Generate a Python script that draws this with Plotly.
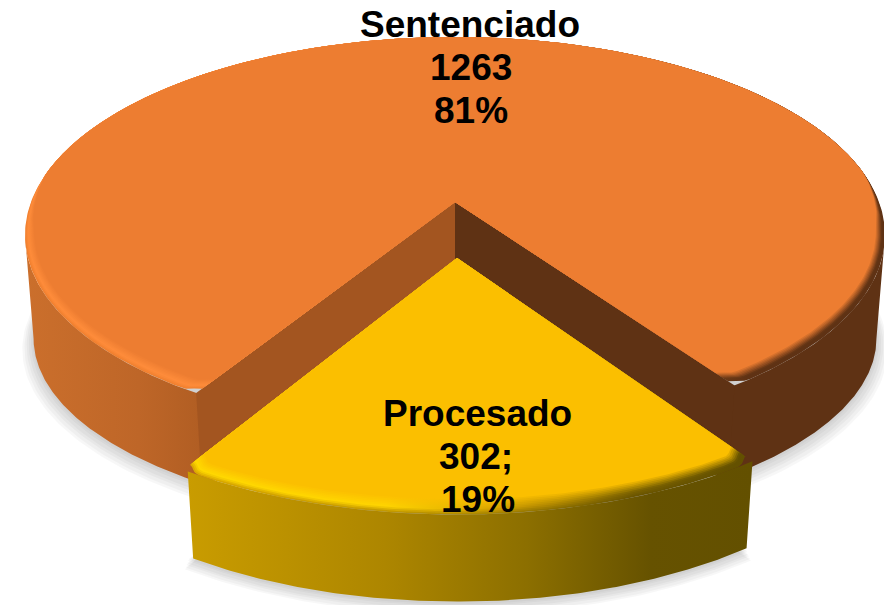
import numpy as np
import plotly.graph_objects as go

# ---- data
categories = ["Sentenciado", "Procesado"]
values = [1263, 302]
value_labels = ["1263", "302;"]
percent_labels = ["81%", "19%"]

# ---- view of the pie (a circle in a tilted plane, seen in perspective)
W, H = 884, 605
X0, Y0 = 455.0, 202.0      # pie centre on the top plane
F, G = 424.0, 192.5        # horizontal / depth scale
K = 1 / 6                  # perspective strength
DEPTH = 87.0               # thickness on screen
BOTTOM_SCALE = 0.98        # the lower plane is a little narrower
EXPLODE = 0.278            # how far the small slice is pulled out
EXPLODE_DX = 2.0
FRONT_ROT = 1.55           # degrees, rotation of the small slice from straight front
VIEW_SQUEEZE = 0.954       # foreshortening of angles across the front of the pie
FLARE = 20.0               # the wide body's lower edge sits lower toward its sides
TANGENT = 80.4             # angle of the silhouette's widest point

span = 360 * values[1] / sum(values) * VIEW_SQUEEZE
LEFT_CUT = -(span / 2 - FRONT_ROT)
RIGHT_CUT = span / 2 + FRONT_ROT


def project(theta_deg, r=1.0, z=0.0, explode=0.0, dx=0.0):
    t = np.radians(theta_deg)
    u = r * np.sin(t)
    v = r * np.cos(t) + explode
    d = 1 - K * v
    s = 1 - (1 - BOTTOM_SCALE) * z
    return X0 + dx + F * s * u / d, Y0 + G * v / d + DEPTH * z


def bevel_r(theta, w, t, corners=()):
    v = np.cos(np.radians(theta))
    taper = np.clip((v + 0.15) / 0.3, 0, 1)
    r = 1 - w * t * taper * (0.4 + 0.6 * v ** 2)
    for c in corners:  # the corners of each slice are slightly rounded
        r = r - 0.02 * np.exp(-(((theta - c) / 1.1) ** 2))
    return r


def sector(a0, a1, w=0.0, t=0.0, explode=0.0, dx=0.0, n=360):
    th = np.linspace(a0, a1, n)
    x, y = project(th, bevel_r(th, w, t, (a0, a1)), 0, explode, dx)
    ax, ay = project(0.0, 0.0, 0, explode, dx)
    return np.r_[ax, x, ax], np.r_[ay, y, ay]


def band(a0, a1, explode=0.0, dx=0.0, flare=0.0, n=160):
    th = np.linspace(a0, a1, n)
    x1, y1 = project(th, 1, 0, explode, dx)
    x2, y2 = project(th[::-1], 1, 1, explode, dx)
    y2 = y2 + flare * (1 - np.clip(np.cos(np.radians(th[::-1])), 0, 1))
    return np.r_[x1, x2, x1[0]], np.r_[y1, y2, y1[0]]


def mix(c1, c2, t):
    a = [int(c1[i:i + 2], 16) for i in (1, 3, 5)]
    b = [int(c2[i:i + 2], 16) for i in (1, 3, 5)]
    return "#%02X%02X%02X" % tuple(round(p + (q - p) * t) for p, q in zip(a, b))


fig = go.Figure()


def poly(x, y, color=None, stops=None):
    kw = dict(x=x, y=y, mode="lines", fill="toself", line=dict(width=0),
              hoverinfo="skip", showlegend=False)
    if stops:
        kw["fillgradient"] = dict(type="horizontal", colorscale=stops)
        kw["fillcolor"] = stops[0][1]
    else:
        kw["fillcolor"] = color
    fig.add_trace(go.Scatter(**kw))


def bevel_stops(t, outer, crest, face, peak=0.3):
    """Colour stops of a bevel layer: outer edge -> bright crest -> flat face."""
    out = []
    for (p, c_out), (_, c_crest) in zip(outer, crest):
        if t < peak:
            out.append([p, mix(c_out, c_crest, t / peak)])
        else:
            out.append([p, mix(c_crest, face, (t - peak) / (1 - peak))])
    return out


# ---- soft shadow on the ground
ORANGE_A0, ORANGE_A1 = RIGHT_CUT, 360 + LEFT_CUT
th_all = np.linspace(0, 360, 300)
th_y = np.linspace(LEFT_CUT, RIGHT_CUT, 100)
for e, off in [(0.026, 9), (0.021, 8), (0.016, 6), (0.011, 5), (0.006, 3), (0.002, 2)]:
    x, y = project(th_all, 1 + e, 1)
    y = y + FLARE * (1 - np.clip(np.cos(np.radians(th_all)), 0, 1))
    poly(x, y + off, "rgba(0,0,0,0.03)")
    x, y = project(th_y, 1 + e * 0.5, 1, EXPLODE, EXPLODE_DX)
    ax, ay = project(0.0, 0.0, 1, EXPLODE, EXPLODE_DX)
    poly(np.r_[ax, x, ax], np.r_[ay, y + off, ay], "rgba(0,0,0,0.03)")

# ---- orange body: outer wall, then the two cut walls
x, y = band(-TANGENT, LEFT_CUT + 2, flare=FLARE)
poly(x, y, stops=[[0, "#CB6F2C"], [0.6, "#BE6628"], [1, "#AE5C22"]])
x, y = band(RIGHT_CUT - 2, TANGENT, flare=FLARE)
poly(x, y, "#5F3214")

ax0, ay0 = project(0.0, 0.0, 0)
ax1, ay1 = project(0.0, 0.0, 1)
lx0, ly0 = project(LEFT_CUT, 1.0, 0)
lx1, ly1 = project(LEFT_CUT, 1.0, 1)
rx0, ry0 = project(RIGHT_CUT, 1.0, 0)
rx1, ry1 = project(RIGHT_CUT, 1.0, 1)
poly([ax0, lx0, lx1, ax1, ax0], [ay0, ly0, ly1, ay1, ay0], "#A35520")
poly([ax0, rx0, rx1, ax1, ax0], [ay0, ry0, ry1, ay1, ay0], "#5F3214")

# ---- top faces with a bevel that is lit from the left
ORANGE_FACE = "#ED7D31"
YELLOW_FACE = "#FBBF00"
orange_outer = [(0.0, "#F0802F"), (0.32, "#F0802F"), (0.62, "#B05E24"), (0.84, "#5F3214"), (1.0, "#5F3214")]
orange_crest = [(0.0, "#FF8C3A"), (0.32, "#FF8C3A"), (0.62, "#C86A2A"), (0.84, "#5F3214"), (1.0, "#5F3214")]
yellow_outer = [(0.0, "#DCAA00"), (0.35, "#C49A00"), (0.55, "#A88500"), (0.8, "#6B5500"), (1.0, "#635000")]
yellow_crest = [(0.0, "#FFD900"), (0.35, "#FFD400"), (0.55, "#D8A400"), (0.8, "#7C6300"), (1.0, "#635000")]

for t in np.linspace(0, 1, 10):
    x, y = sector(ORANGE_A0, ORANGE_A1, 0.05, t)
    poly(x, y, stops=bevel_stops(t, orange_outer, orange_crest, ORANGE_FACE))

# ---- small slice pulled out
x, y = band(LEFT_CUT + 0.6, RIGHT_CUT, EXPLODE, EXPLODE_DX)
poly(x, y, stops=[[0, "#C99C00"], [0.35, "#AD8600"], [0.6, "#8C6F00"], [0.82, "#665200"], [1, "#635000"]])
for t in np.linspace(0, 1, 10):
    x, y = sector(LEFT_CUT, RIGHT_CUT, 0.05, t, EXPLODE, EXPLODE_DX)
    poly(x, y, stops=bevel_stops(t, yellow_outer, yellow_crest, YELLOW_FACE))

# ---- labels, one annotation per line for the tight line spacing
label_lines = [
    (categories[0], 470, 24), (value_labels[0], 471, 67), (percent_labels[0], 471, 110),
    (categories[1], 477, 413), (value_labels[1], 476, 456), (percent_labels[1], 478, 499),
]
for text, lx, ly in label_lines:
    fig.add_annotation(x=lx, y=ly, text="<b>" + text + "</b>", showarrow=False,
                       xanchor="center", yanchor="middle",
                       font=dict(family="Liberation Sans", size=37, color="#000000"))

fig.update_layout(
    width=W, height=H, margin=dict(l=0, r=0, t=0, b=0),
    paper_bgcolor="#FFFFFF", plot_bgcolor="#FFFFFF", showlegend=False,
    xaxis=dict(range=[0, W], visible=False, fixedrange=True),
    yaxis=dict(range=[H, 0], visible=False, fixedrange=True),
)
fig.write_html("out.html", config={"displayModeBar": False},
               post_script="document.body.style.margin='0';document.body.style.overflow='hidden';")
